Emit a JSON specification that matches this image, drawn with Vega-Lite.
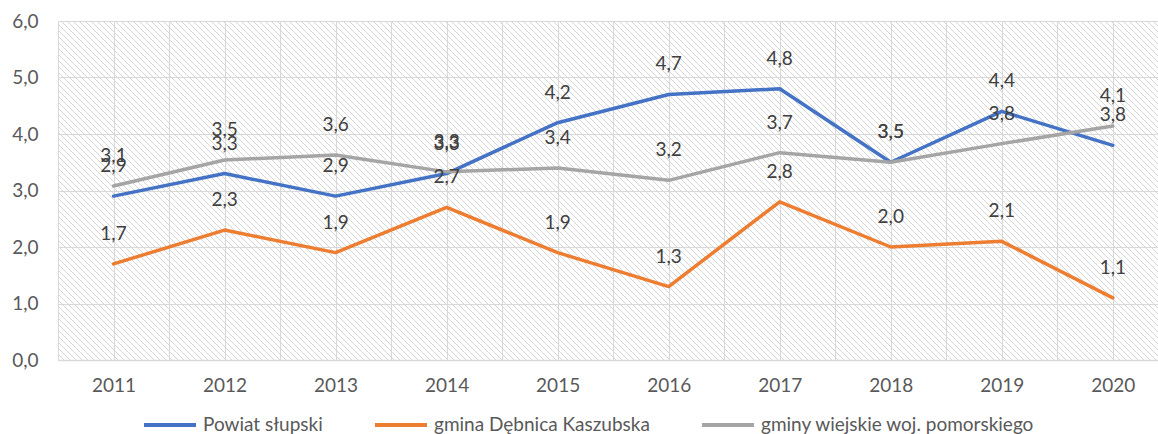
{
  "$schema": "https://vega.github.io/schema/vega-lite/v6.json",
  "width": 1100,
  "height": 339,
  "autosize": {"type": "none"},
  "padding": {"left": 58, "top": 21, "right": 0, "bottom": 74},
  "background": "white",
  "config": {
    "locale": {"number": {"decimal": ",", "thousands": " ", "grouping": [3], "currency": ["", " zł"]}},
    "view": {"stroke": null},
    "font": "Lato"
  },
  "data": {
    "values": [
      {"year": 2011, "series": "Powiat słupski", "value": 2.9},
      {"year": 2012, "series": "Powiat słupski", "value": 3.3},
      {"year": 2013, "series": "Powiat słupski", "value": 2.9},
      {"year": 2014, "series": "Powiat słupski", "value": 3.3},
      {"year": 2015, "series": "Powiat słupski", "value": 4.2},
      {"year": 2016, "series": "Powiat słupski", "value": 4.7},
      {"year": 2017, "series": "Powiat słupski", "value": 4.8},
      {"year": 2018, "series": "Powiat słupski", "value": 3.5},
      {"year": 2019, "series": "Powiat słupski", "value": 4.4},
      {"year": 2020, "series": "Powiat słupski", "value": 3.8},
      {"year": 2011, "series": "gmina Dębnica Kaszubska", "value": 1.7},
      {"year": 2012, "series": "gmina Dębnica Kaszubska", "value": 2.3},
      {"year": 2013, "series": "gmina Dębnica Kaszubska", "value": 1.9},
      {"year": 2014, "series": "gmina Dębnica Kaszubska", "value": 2.7},
      {"year": 2015, "series": "gmina Dębnica Kaszubska", "value": 1.9},
      {"year": 2016, "series": "gmina Dębnica Kaszubska", "value": 1.3},
      {"year": 2017, "series": "gmina Dębnica Kaszubska", "value": 2.8},
      {"year": 2018, "series": "gmina Dębnica Kaszubska", "value": 2.0},
      {"year": 2019, "series": "gmina Dębnica Kaszubska", "value": 2.1},
      {"year": 2020, "series": "gmina Dębnica Kaszubska", "value": 1.1},
      {"year": 2011, "series": "gminy wiejskie woj. pomorskiego", "value": 3.08},
      {"year": 2012, "series": "gminy wiejskie woj. pomorskiego", "value": 3.54},
      {"year": 2013, "series": "gminy wiejskie woj. pomorskiego", "value": 3.63},
      {"year": 2014, "series": "gminy wiejskie woj. pomorskiego", "value": 3.33},
      {"year": 2015, "series": "gminy wiejskie woj. pomorskiego", "value": 3.40},
      {"year": 2016, "series": "gminy wiejskie woj. pomorskiego", "value": 3.18},
      {"year": 2017, "series": "gminy wiejskie woj. pomorskiego", "value": 3.67},
      {"year": 2018, "series": "gminy wiejskie woj. pomorskiego", "value": 3.50},
      {"year": 2019, "series": "gminy wiejskie woj. pomorskiego", "value": 3.83},
      {"year": 2020, "series": "gminy wiejskie woj. pomorskiego", "value": 4.14}
    ]
  },
  "encoding": {
    "x": {
      "field": "year",
      "type": "quantitative",
      "scale": {"domain": [2010.5, 2020.407], "nice": false, "zero": false},
      "axis": {
        "title": null,
        "values": [2010.5, 2011, 2011.5, 2012, 2012.5, 2013, 2013.5, 2014, 2014.5, 2015, 2015.5, 2016, 2016.5, 2017, 2017.5, 2018, 2018.5, 2019, 2019.5, 2020],
        "labelExpr": "datum.value % 1 === 0 ? '' + datum.value : ''",
        "labelOverlap": false,
        "labelFlush": false,
        "ticks": false,
        "domain": true,
        "domainColor": "#d9d9d9",
        "domainWidth": 1.5,
        "grid": true,
        "gridColor": "#d9d9d9",
        "gridWidth": 1,
        "labelFont": "Lato",
        "labelFontSize": 19,
        "labelColor": "#595959",
        "labelPadding": 16
      }
    },
    "y": {
      "field": "value",
      "type": "quantitative",
      "scale": {"domain": [0, 6], "nice": false},
      "axis": {
        "title": null,
        "values": [0, 1, 2, 3, 4, 5, 6],
        "format": ".1f",
        "ticks": false,
        "domain": false,
        "grid": true,
        "gridColor": "#d9d9d9",
        "gridWidth": 1,
        "labelFont": "Lato",
        "labelFontSize": 19,
        "labelColor": "#595959",
        "labelPadding": 20
      }
    }
  },
  "layer": [
    {
      "transform": [{"filter": "datum.year === 2011 && datum.series === 'Powiat słupski'"}],
      "mark": {
        "type": "point",
        "shape": "M-339,0l339,339m-333,-339l339,339m-333,-339l339,339m-333,-339l339,339m-333,-339l339,339m-333,-339l339,339m-333,-339l339,339m-333,-339l339,339m-333,-339l339,339m-333,-339l339,339m-333,-339l339,339m-333,-339l339,339m-333,-339l339,339m-333,-339l339,339m-333,-339l339,339m-333,-339l339,339m-333,-339l339,339m-333,-339l339,339m-333,-339l339,339m-333,-339l339,339m-333,-339l339,339m-333,-339l339,339m-333,-339l339,339m-333,-339l339,339m-333,-339l339,339m-333,-339l339,339m-333,-339l339,339m-333,-339l339,339m-333,-339l339,339m-333,-339l339,339m-333,-339l339,339m-333,-339l339,339m-333,-339l339,339m-333,-339l339,339m-333,-339l339,339m-333,-339l339,339m-333,-339l339,339m-333,-339l339,339m-333,-339l339,339m-333,-339l339,339m-333,-339l339,339m-333,-339l339,339m-333,-339l339,339m-333,-339l339,339m-333,-339l339,339m-333,-339l339,339m-333,-339l339,339m-333,-339l339,339m-333,-339l339,339m-333,-339l339,339m-333,-339l339,339m-333,-339l339,339m-333,-339l339,339m-333,-339l339,339m-333,-339l339,339m-333,-339l339,339m-333,-339l339,339m-333,-339l339,339m-333,-339l339,339m-333,-339l339,339m-333,-339l339,339m-333,-339l339,339m-333,-339l339,339m-333,-339l339,339m-333,-339l339,339m-333,-339l339,339m-333,-339l339,339m-333,-339l339,339m-333,-339l339,339m-333,-339l339,339m-333,-339l339,339m-333,-339l339,339m-333,-339l339,339m-333,-339l339,339m-333,-339l339,339m-333,-339l339,339m-333,-339l339,339m-333,-339l339,339m-333,-339l339,339m-333,-339l339,339m-333,-339l339,339m-333,-339l339,339m-333,-339l339,339m-333,-339l339,339m-333,-339l339,339m-333,-339l339,339m-333,-339l339,339m-333,-339l339,339m-333,-339l339,339m-333,-339l339,339m-333,-339l339,339m-333,-339l339,339m-333,-339l339,339m-333,-339l339,339m-333,-339l339,339m-333,-339l339,339m-333,-339l339,339m-333,-339l339,339m-333,-339l339,339m-333,-339l339,339m-333,-339l339,339m-333,-339l339,339m-333,-339l339,339m-333,-339l339,339m-333,-339l339,339m-333,-339l339,339m-333,-339l339,339m-333,-339l339,339m-333,-339l339,339m-333,-339l339,339m-333,-339l339,339m-333,-339l339,339m-333,-339l339,339m-333,-339l339,339m-333,-339l339,339m-333,-339l339,339m-333,-339l339,339m-333,-339l339,339m-333,-339l339,339m-333,-339l339,339m-333,-339l339,339m-333,-339l339,339m-333,-339l339,339m-333,-339l339,339m-333,-339l339,339m-333,-339l339,339m-333,-339l339,339m-333,-339l339,339m-333,-339l339,339m-333,-339l339,339m-333,-339l339,339m-333,-339l339,339m-333,-339l339,339m-333,-339l339,339m-333,-339l339,339m-333,-339l339,339m-333,-339l339,339m-333,-339l339,339m-333,-339l339,339m-333,-339l339,339m-333,-339l339,339m-333,-339l339,339m-333,-339l339,339m-333,-339l339,339m-333,-339l339,339m-333,-339l339,339m-333,-339l339,339m-333,-339l339,339m-333,-339l339,339m-333,-339l339,339m-333,-339l339,339m-333,-339l339,339m-333,-339l339,339m-333,-339l339,339m-333,-339l339,339m-333,-339l339,339m-333,-339l339,339m-333,-339l339,339m-333,-339l339,339m-333,-339l339,339m-333,-339l339,339m-333,-339l339,339m-333,-339l339,339m-333,-339l339,339m-333,-339l339,339m-333,-339l339,339m-333,-339l339,339m-333,-339l339,339m-333,-339l339,339m-333,-339l339,339m-333,-339l339,339m-333,-339l339,339m-333,-339l339,339m-333,-339l339,339m-333,-339l339,339m-333,-339l339,339m-333,-339l339,339m-333,-339l339,339m-333,-339l339,339m-333,-339l339,339m-333,-339l339,339m-333,-339l339,339m-333,-339l339,339m-333,-339l339,339m-333,-339l339,339m-333,-339l339,339m-333,-339l339,339m-333,-339l339,339m-333,-339l339,339m-333,-339l339,339m-333,-339l339,339m-333,-339l339,339m-333,-339l339,339m-333,-339l339,339m-333,-339l339,339m-333,-339l339,339m-333,-339l339,339m-333,-339l339,339m-333,-339l339,339m-333,-339l339,339m-333,-339l339,339m-333,-339l339,339m-333,-339l339,339m-333,-339l339,339m-333,-339l339,339m-333,-339l339,339m-333,-339l339,339m-333,-339l339,339m-333,-339l339,339m-333,-339l339,339m-333,-339l339,339m-333,-339l339,339m-333,-339l339,339m-333,-339l339,339m-333,-339l339,339m-333,-339l339,339m-333,-339l339,339m-333,-339l339,339m-333,-339l339,339m-333,-339l339,339m-333,-339l339,339m-333,-339l339,339m-333,-339l339,339m-333,-339l339,339m-333,-339l339,339m-333,-339l339,339m-333,-339l339,339m-333,-339l339,339m-333,-339l339,339m-333,-339l339,339m-333,-339l339,339m-333,-339l339,339m-333,-339l339,339m-333,-339l339,339m-333,-339l339,339m-333,-339l339,339m-333,-339l339,339m-333,-339l339,339m-333,-339l339,339m-333,-339l339,339m-333,-339l339,339m-333,-339l339,339m-333,-339l339,339m-333,-339l339,339m-333,-339l339,339m-333,-339l339,339m-333,-339l339,339m-333,-339l339,339m-333,-339l339,339m-333,-339l339,339m-333,-339l339,339m-333,-339l339,339m-333,-339l339,339m-333,-339l339,339m-333,-339l339,339m-333,-339l339,339m-333,-339l339,339m-333,-339l339,339m-333,-339l339,339m-333,-339l339,339m-333,-339l339,339m-333,-339l339,339m-333,-339l339,339m-333,-339l339,339m-333,-339l339,339m-333,-339l339,339m-333,-339l339,339m-333,-339l339,339m-333,-339l339,339m-333,-339l339,339m-333,-339l339,339m-333,-339l339,339m-333,-339l339,339m-333,-339l339,339m-333,-339l339,339m-333,-339l339,339m-333,-339l339,339m-333,-339l339,339m-333,-339l339,339m-333,-339l339,339m-333,-339l339,339m-333,-339l339,339",
        "size": 4,
        "filled": false,
        "stroke": "#d6d6d6",
        "strokeWidth": 1,
        "opacity": 1,
        "clip": true
      },
      "encoding": {
        "x": {"datum": 2010.5, "type": "quantitative"},
        "y": {"datum": 6, "type": "quantitative"}
      }
    },
    {
      "mark": {"type": "line", "strokeWidth": 3.5, "strokeCap": "round", "strokeJoin": "round"},
      "encoding": {
        "color": {
          "field": "series",
          "type": "nominal",
          "scale": {
            "domain": ["Powiat słupski", "gmina Dębnica Kaszubska", "gminy wiejskie woj. pomorskiego"],
            "range": ["#4472C4", "#ED7D31", "#A5A5A5"]
          },
          "legend": {
            "title": null,
            "orient": "none",
            "legendX": 84,
            "legendY": 376,
            "direction": "horizontal",
            "symbolType": "stroke",
            "symbolSize": 2704,
            "symbolStrokeWidth": 4,
            "labelFont": "Lato",
            "labelFontSize": 19,
            "labelColor": "#595959",
            "labelLimit": 500,
            "labelOffset": 5,
            "columnPadding": 44,
            "padding": 0
          }
        }
      }
    },
    {
      "mark": {"type": "text", "dy": -30, "font": "Lato", "fontSize": 19, "color": "#404040"},
      "encoding": {
        "text": {"field": "value", "type": "quantitative", "format": ".1f"},
        "detail": {"field": "series"}
      }
    }
  ]
}
